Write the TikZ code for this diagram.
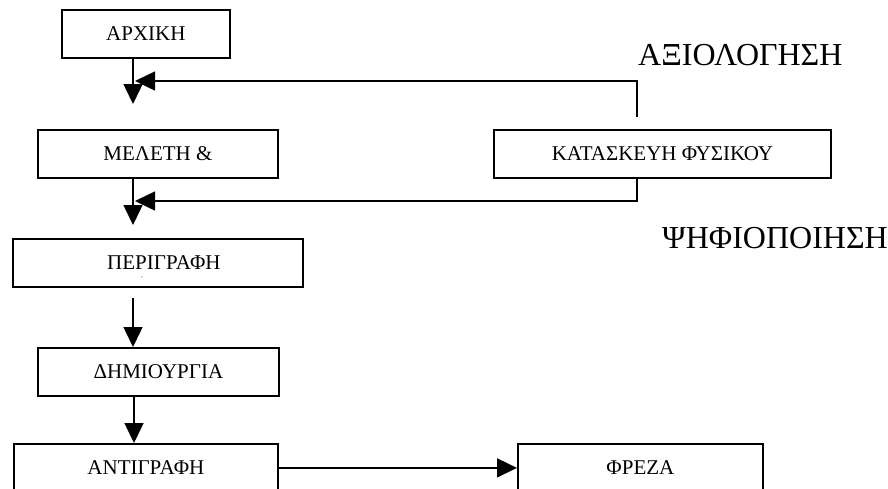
\documentclass[tikz,border=0pt]{standalone}
\usepackage{fontspec}
\setmainfont{Liberation Serif}
\usetikzlibrary{arrows.meta}
\begin{document}
\begin{tikzpicture}[x=1pt,y=-1pt,
  box/.style={draw, line width=1.8pt, minimum height=48pt, inner sep=0pt,
    anchor=north west, font=\fontsize{21}{24}\selectfont},
  flow/.style={line width=1.5pt, -{Triangle[length=20pt,width=19pt]}},
  stage/.style={font=\fontsize{32}{36}\selectfont, inner sep=0pt, anchor=west}]
\useasboundingbox (0,0) rectangle (888,488);
\clip (0,0) rectangle (888,488);

% process boxes
\node[box, minimum width=168pt] (arxiki) at (61,9) {ΑΡΧΙΚΗ};
\node[box, minimum width=240pt] (meleti) at (37,129) {ΜΕΛΕΤΗ \&};
\node[box, minimum width=337pt] (kataskevi) at (493,129) {ΚΑΤΑΣΚΕΥΗ ΦΥΣΙΚΟΥ};
\node[box, minimum width=290pt] (perigrafi) at (12,238) {\hspace*{12pt}ΠΕΡΙΓΡΑΦΗ};
\node[font=\fontsize{7}{8}\selectfont, inner sep=0pt, anchor=base] (dots) at (142,281) {¨};
\node[box, minimum width=241pt] (dimiourgia) at (37,347) {ΔΗΜΙΟΥΡΓΙΑ};
\node[box, minimum width=264pt] (antigrafi) at (13,443) {ΑΝΤΙΓΡΑΦΗ};
\node[box, minimum width=245pt] (freza) at (517,443) {ΦΡΕΖΑ};

% stage labels
\node[stage] (eval) at (638,55) {ΑΞΙΟΛΟΓΗΣΗ};
\node[stage] (digit) at (662,238) {ΨΗΦΙΟΠΟΙΗΣΗ};

% free ends of the connectors
\coordinate (t1) at (133,104);
\coordinate (t2) at (133,225);
\coordinate (f1) at (637,117);
\coordinate (f1tip) at (135,81);
\coordinate (f2tip) at (135,201);
\coordinate (s3) at (133,298);
\coordinate (c4) at (134,420);

% main flow
\draw[flow] (arxiki.south -| t1) -- (t1);
\draw[flow] (meleti.south -| t2) -- (t2);
\draw[flow] (s3) -- (dimiourgia.north -| s3);
\draw[flow] (dimiourgia.south -| c4) -- (antigrafi.north -| c4);
\draw[flow] (antigrafi.east) -- (freza.west);

% feedback loops
\draw[flow] (f1) |- (f1tip);
\draw[flow] (kataskevi.south -| f1) |- (f2tip);
\end{tikzpicture}
\end{document}
